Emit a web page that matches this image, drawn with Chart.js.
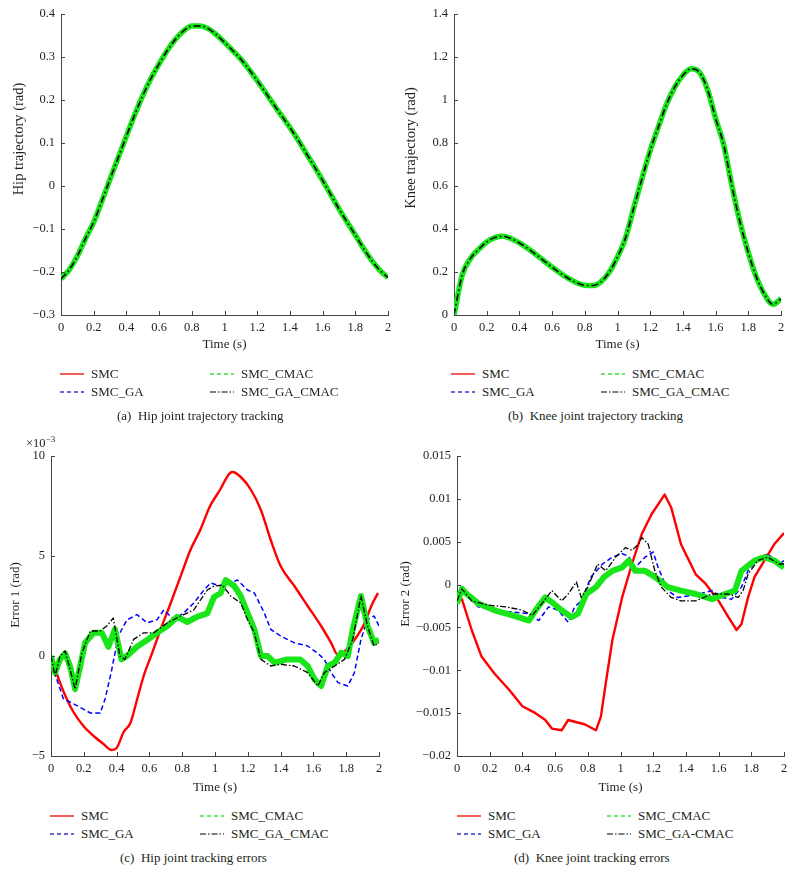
<!DOCTYPE html>
<html>
<head>
<meta charset="utf-8">
<script src="https://cdn.jsdelivr.net/npm/chart.js@4.4.1/dist/chart.umd.min.js"></script>
<style>
  body { margin: 0; background: #fff; }
  #fig { position: relative; width: 795px; height: 885px; font-family: "Liberation Serif", "DejaVu Serif", serif; color: #231f20; }
  #fig canvas { position: absolute; }
  .ytitle { position: absolute; transform: translate(-50%, -50%) rotate(-90deg); white-space: nowrap; }
  .cap { position: absolute; font-size: 13px; white-space: pre; transform: translateY(-50%); }
  .leg { position: absolute; font-size: 13px; display: flex; align-items: center; white-space: nowrap; transform: translateY(-50%); }
  .leg svg { margin-right: 7px; }
  .expo { position: absolute; left: 26px; top: 434px; font-size: 12.5px; }
  .expo sup { font-size: 9px; }
</style>
</head>
<body>
<div id="fig">
  <canvas id="hipChart" width="395" height="352" style="left:0;top:0"></canvas>
  <canvas id="kneeChart" width="395" height="352" style="left:395px;top:0"></canvas>
  <canvas id="err1Chart" width="395" height="355" style="left:0;top:440px"></canvas>
  <canvas id="err2Chart" width="400" height="355" style="left:395px;top:440px"></canvas>
  <div class="ytitle" style="left:18px;top:139px;font-size:14.5px">Hip trajectory (rad)</div>
  <div class="ytitle" style="left:410px;top:148px;font-size:14.5px">Knee trajectory (rad)</div>
  <div class="ytitle" style="left:15px;top:595px;font-size:13px">Error 1 (rad)</div>
  <div class="ytitle" style="left:405px;top:594px;font-size:13px">Error 2 (rad)</div>
  <div class="expo">×10<sup>−3</sup></div>
  <div class="cap" style="left:117px;top:416px">(a)  Hip joint trajectory tracking</div>
  <div class="cap" style="left:508px;top:416px">(b)  Knee joint trajectory tracking</div>
  <div class="cap" style="left:120px;top:858px">(c)  Hip joint tracking errors</div>
  <div class="cap" style="left:514px;top:858px">(d)  Knee joint tracking errors</div>
  <div id="legends"></div>
</div>
<script>
// time grid for the trajectories (s)
const time = [0, 0.05, 0.1, 0.15, 0.2, 0.25, 0.3, 0.35, 0.4, 0.45, 0.5, 0.55, 0.6, 0.65, 0.7, 0.75, 0.8, 0.85, 0.9, 0.95,
  1, 1.05, 1.1, 1.15, 1.2, 1.25, 1.3, 1.35, 1.4, 1.45, 1.5, 1.55, 1.6, 1.65, 1.7, 1.75, 1.8, 1.85, 1.9, 1.95, 2];

// all four controllers track the same reference, curves overlap
const hipTraj = [-0.216, -0.195, -0.163, -0.122, -0.084, -0.035, 0.016, 0.066, 0.116, 0.165, 0.21, 0.25, 0.284, 0.315,
  0.341, 0.361, 0.372, 0.372, 0.366, 0.352, 0.334, 0.315, 0.295, 0.271, 0.245, 0.218, 0.19, 0.163, 0.136, 0.107, 0.076,
  0.045, 0.013, -0.02, -0.053, -0.084, -0.114, -0.145, -0.173, -0.196, -0.213];
const kneeTraj = [0, 0.185, 0.262, 0.305, 0.34, 0.36, 0.366, 0.355, 0.335, 0.31, 0.282, 0.252, 0.222, 0.195, 0.17, 0.15,
  0.138, 0.137, 0.155, 0.2, 0.27, 0.36, 0.5, 0.635, 0.765, 0.875, 0.98, 1.06, 1.115, 1.145, 1.13, 1.05, 0.915, 0.79, 0.6,
  0.43, 0.29, 0.175, 0.095, 0.05, 0.075];

// hip errors, units of 1e-3 rad
const smcT1 = [0, 0.055, 0.096, 0.137, 0.198, 0.26, 0.32, 0.37, 0.4, 0.443, 0.484, 0.524, 0.565, 0.616, 0.667, 0.73,
  0.79, 0.85, 0.91, 0.97, 1.03, 1.086, 1.106, 1.157, 1.22, 1.28, 1.34, 1.4, 1.484, 1.565, 1.647, 1.708, 1.75, 1.8, 1.85,
  1.91, 1.953, 1.994];
const smcE1 = [0, -1.33, -2.15, -2.8, -3.5, -4.0, -4.4, -4.7, -4.6, -3.8, -3.35, -2.2, -1.0, 0.13, 1.3, 2.65, 3.98, 5.3,
  6.3, 7.5, 8.3, 9.1, 9.2, 8.95, 8.3, 7.3, 5.8, 4.5, 3.5, 2.5, 1.5, 0.66, 0.05, 0.3, 0.8, 1.6, 2.5, 3.15];
const gaT1 = [0, 0.035, 0.076, 0.116, 0.178, 0.24, 0.3, 0.33, 0.37, 0.41, 0.463, 0.524, 0.586, 0.647, 0.688, 0.75, 0.81,
  0.871, 0.933, 0.973, 1.035, 1.096, 1.137, 1.198, 1.24, 1.3, 1.34, 1.4, 1.484, 1.565, 1.627, 1.667, 1.708, 1.75, 1.81,
  1.85, 1.89, 1.93, 1.97, 2.0];
const gaE1 = [0, -1.16, -2.15, -2.3, -2.57, -2.85, -2.85, -2.15, -0.7, 1.0, 1.8, 2.07, 1.66, 1.82, 2.3, 1.82, 2.16, 2.65,
  3.3, 3.65, 3.5, 3.65, 3.8, 3.3, 3.15, 2.16, 1.33, 1.0, 0.66, 0.5, 0.13, -0.17, -0.83, -1.33, -1.5, -0.83, 0.83, 1.82,
  2.0, 1.5];
const cmacT1 = [0, 0.025, 0.055, 0.086, 0.116, 0.147, 0.178, 0.208, 0.26, 0.31, 0.35, 0.39, 0.43, 0.463, 0.524, 0.586,
  0.647, 0.71, 0.77, 0.831, 0.89, 0.953, 0.994, 1.035, 1.065, 1.117, 1.157, 1.198, 1.24, 1.28, 1.32, 1.363, 1.44, 1.52,
  1.565, 1.606, 1.647, 1.688, 1.73, 1.77, 1.81, 1.84, 1.89, 1.93, 1.97, 2.0];
const cmacE1 = [0, -0.83, -0.17, 0.13, -0.5, -1.66, -0.5, 0.66, 1.16, 1.16, 0.46, 1.33, -0.17, 0, 0.46, 0.8, 1.16, 1.5,
  1.96, 1.7, 1.96, 2.13, 2.95, 3.15, 3.8, 3.5, 3.0, 2.16, 1.33, 0, 0, -0.33, -0.17, -0.17, -0.5, -1.16, -1.5, -0.5,
  -0.33, 0.17, 0, 1.33, 3.0, 1.5, 0.66, 0.83];
const gacmacT1 = [0, 0.025, 0.055, 0.086, 0.116, 0.147, 0.188, 0.24, 0.3, 0.34, 0.38, 0.42, 0.45, 0.504, 0.565, 0.627,
  0.71, 0.79, 0.87, 0.953, 0.994, 1.045, 1.096, 1.157, 1.198, 1.24, 1.28, 1.34, 1.4, 1.484, 1.565, 1.627, 1.667, 1.73,
  1.79, 1.84, 1.89, 1.93, 1.97, 2.0];
const gacmacE1 = [0, -1.0, 0, 0.25, -0.66, -1.66, 0.13, 1.25, 1.25, 1.5, 1.9, 0, -0.17, 0.83, 1.16, 1.16, 1.66, 2.0,
  2.3, 3.3, 3.5, 3.55, 3.0, 2.65, 1.82, 1.16, -0.17, -0.5, -0.41, -0.5, -0.83, -1.5, -0.83, -0.5, -0.17, 0.83, 3.0, 1.5,
  0.5, 0.66];

// knee errors (rad)
const smcT2 = [0, 0.03, 0.09, 0.15, 0.23, 0.32, 0.4, 0.48, 0.54, 0.58, 0.64, 0.68, 0.72, 0.78, 0.85, 0.88, 0.91, 0.95,
  1.01, 1.07, 1.13, 1.19, 1.27, 1.31, 1.37, 1.46, 1.52, 1.6, 1.66, 1.71, 1.74, 1.78, 1.82, 1.88, 1.94, 2.0];
const smcE2 = [-0.0019, -0.0017, -0.0053, -0.0084, -0.0104, -0.0123, -0.0142, -0.015, -0.0158, -0.0168, -0.017,
  -0.0158, -0.016, -0.0163, -0.017, -0.0154, -0.0115, -0.0065, -0.0015, 0.0024, 0.0059, 0.0082, 0.0105, 0.009, 0.0047,
  0.0012, 0.0001, -0.0019, -0.0038, -0.0053, -0.0046, -0.0015, 0.0009, 0.0028, 0.0047, 0.006];
const gaT2 = [0, 0.03, 0.13, 0.23, 0.34, 0.44, 0.5, 0.56, 0.62, 0.68, 0.72, 0.76, 0.82, 0.89, 0.95, 1.01, 1.05, 1.09,
  1.15, 1.2, 1.23, 1.29, 1.35, 1.42, 1.48, 1.56, 1.62, 1.68, 1.74, 1.78, 1.84, 1.9, 1.97, 2.0];
const gaE2 = [-0.002, -0.0007, -0.0026, -0.003, -0.0032, -0.0034, -0.0042, -0.0026, -0.003, -0.0044, -0.0026, -0.0019,
  0.0009, 0.0024, 0.0032, 0.0036, 0.0033, 0.002, 0.0032, 0.0038, 0.002, -0.0007, -0.0015, -0.0013, -0.0011, -0.0007,
  -0.0015, -0.0017, -0.0003, 0.0016, 0.003, 0.0036, 0.0024, 0.0028];
const cmacT2 = [0, 0.03, 0.06, 0.13, 0.23, 0.34, 0.44, 0.48, 0.54, 0.59, 0.64, 0.7, 0.74, 0.79, 0.85, 0.9, 0.95, 1.01,
  1.05, 1.09, 1.15, 1.21, 1.29, 1.37, 1.46, 1.56, 1.64, 1.7, 1.74, 1.82, 1.88, 1.94, 2.0];
const cmacE2 = [-0.0022, -0.0005, -0.0011, -0.0022, -0.003, -0.0036, -0.0042, -0.003, -0.0015, -0.0022, -0.003,
  -0.0038, -0.0034, -0.0011, -0.0003, 0.0009, 0.0016, 0.002, 0.0028, 0.0016, 0.0016, 0.0009, -0.0003, -0.0007, -0.0011,
  -0.0017, -0.0011, -0.0007, 0.0016, 0.0028, 0.0032, 0.0028, 0.002];
const gacmacT2 = [0, 0.03, 0.09, 0.19, 0.3, 0.4, 0.46, 0.52, 0.58, 0.64, 0.68, 0.73, 0.76, 0.8, 0.86, 0.91, 0.97, 1.03,
  1.07, 1.11, 1.13, 1.17, 1.21, 1.25, 1.31, 1.37, 1.46, 1.56, 1.66, 1.72, 1.75, 1.78, 1.84, 1.9, 1.97, 2.0];
const gacmacE2 = [-0.0019, -0.0005, -0.0019, -0.0024, -0.0026, -0.003, -0.0036, -0.0022, -0.0007, -0.0019, -0.0011,
  0.0003, -0.0015, -0.0003, 0.0024, 0.0016, 0.0032, 0.0043, 0.004, 0.0047, 0.0055, 0.0047, 0.0016, -0.0003, -0.0015,
  -0.0019, -0.0019, -0.0011, -0.0011, -0.0015, -0.0007, 0.0012, 0.0028, 0.0032, 0.0024, 0.0024];

const seriesNames = ["SMC", "SMC_GA", "SMC_CMAC", "SMC_GA_CMAC"];
const seriesNamesD = ["SMC", "SMC_GA", "SMC_CMAC", "SMC_GA-CMAC"];

const colors = ["#ff0000", "#0000ff", "#19e619", "#000000"];
const legendColors = ["#ef5d5d", "#3535c8", "#3ee03e", "#555555"];
const legendDash = ["", "4,3", "4,3", "6,2,1.5,2"];
const txt = "#231f20";
const axisCol = "#444";

const pts = (ts, vs) => ts.map((t, i) => ({ x: t, y: vs[i] }));
const fmt = v => {
  const r = Math.round(v * 1000) / 1000;
  return (r < 0 ? "\u2212" : "") + String(Math.abs(r));
};

// MATLAB style ticks pointing into the plot
const innerTicks = {
  id: "innerTicks",
  afterDraw(chart) {
    const { ctx, scales: { x, y } } = chart;
    ctx.save();
    ctx.strokeStyle = axisCol;
    ctx.lineWidth = 1;
    ctx.beginPath();
    x.ticks.forEach((t, i) => {
      const px = Math.round(x.getPixelForTick(i)) + 0.5;
      ctx.moveTo(px, y.bottom);
      ctx.lineTo(px, y.bottom - 4);
    });
    y.ticks.forEach((t, i) => {
      const py = Math.round(y.getPixelForTick(i)) + 0.5;
      ctx.moveTo(x.left, py);
      ctx.lineTo(x.left + 4, py);
    });
    ctx.stroke();
    ctx.restore();
  }
};

// traj: reference curves (all smooth); smoothRed: SMC error drawn as a smooth drift
function sets(data, traj, smoothRed) {
  const widths = traj ? [2, 1.5, 5.5, 1.6] : [2.4, 1.5, 6, 1.3];
  const dashes = traj ? [[], [5, 3], [], [7, 3, 1.5, 3]] : [[], [5, 3], [], [6, 2, 1.5, 2]];
  return data.map((d, i) => ({
    label: seriesNames[i],
    data: d,
    borderColor: colors[i],
    borderWidth: widths[i],
    borderDash: dashes[i],
    borderJoinStyle: "round",
    pointRadius: 0,
    fill: false,
    order: 4 - i,
    cubicInterpolationMode: traj || (smoothRed && i === 0) ? "monotone" : "default",
    tension: 0
  }));
}

function makeChart(id, datasets, y, box) {
  const tickFont = { family: "Liberation Serif", size: 12.5 };
  return new Chart(document.getElementById(id), {
    type: "line",
    data: { datasets },
    plugins: [innerTicks],
    options: {
      responsive: false,
      animation: false,
      layout: { padding: { top: box.top, right: box.right, left: 0, bottom: 0 } },
      plugins: { legend: { display: false }, tooltip: { enabled: false } },
      scales: {
        x: {
          type: "linear", min: 0, max: 2,
          ticks: { stepSize: 0.2, padding: 5, autoSkip: false, maxRotation: 0, font: tickFont, color: txt, callback: fmt },
          grid: { drawOnChartArea: false, drawTicks: false },
          border: { color: axisCol },
          title: { display: true, text: "Time (s)", color: txt, padding: 0, font: { family: "Liberation Serif", size: 13 } },
          afterFit(s) { s.height = box.xh; s.paddingLeft = 0; s.paddingRight = 0; }
        },
        y: {
          min: y.min, max: y.max,
          ticks: { stepSize: y.step, padding: 6, font: tickFont, color: txt, callback: fmt },
          grid: { drawOnChartArea: false, drawTicks: false },
          border: { color: axisCol },
          afterFit(s) { s.width = box.yw; s.paddingTop = 0; s.paddingBottom = 0; }
        }
      }
    }
  });
}

const hipPts = pts(time, hipTraj);
const kneePts = pts(time, kneeTraj);

makeChart("hipChart", sets([hipPts, hipPts, hipPts, hipPts], true),
  { min: -0.3, max: 0.4, step: 0.1 }, { top: 14, right: 7, yw: 61, xh: 37 });
makeChart("kneeChart", sets([kneePts, kneePts, kneePts, kneePts], true),
  { min: 0, max: 1.4, step: 0.2 }, { top: 14, right: 9, yw: 59, xh: 37 });
makeChart("err1Chart", sets([pts(smcT1, smcE1), pts(gaT1, gaE1), pts(cmacT1, cmacE1), pts(gacmacT1, gacmacE1)], false, true),
  { min: -5, max: 10, step: 5 }, { top: 16, right: 16, yw: 51, xh: 39 });
makeChart("err2Chart", sets([pts(smcT2, smcE2), pts(gaT2, gaE2), pts(cmacT2, cmacE2), pts(gacmacT2, gacmacE2)], false, false),
  { min: -0.02, max: 0.015, step: 0.005 }, { top: 16, right: 11, yw: 62, xh: 39 });

// legends: two columns, SMC / SMC_GA on the left, CMAC variants on the right
const legendSpots = [[60, 374, seriesNames], [451, 374, seriesNames], [50, 816, seriesNames], [457, 816, seriesNamesD]];
const holder = document.getElementById("legends");
legendSpots.forEach(([lx, ly, names]) => {
  names.forEach((name, i) => {
    const col = i < 2 ? 0 : 1;
    const row = i % 2;
    const el = document.createElement("div");
    el.className = "leg";
    el.style.left = (lx + col * 150) + "px";
    el.style.top = (ly + row * 17.5) + "px";
    el.innerHTML = '<svg width="24" height="8"><line x1="0" y1="4" x2="24" y2="4" stroke="' + legendColors[i] +
      '" stroke-width="' + (i === 0 ? 2 : 1.4) + '" stroke-dasharray="' + legendDash[i] + '"/></svg>' + name;
    holder.appendChild(el);
  });
});
</script>
</body>
</html>
